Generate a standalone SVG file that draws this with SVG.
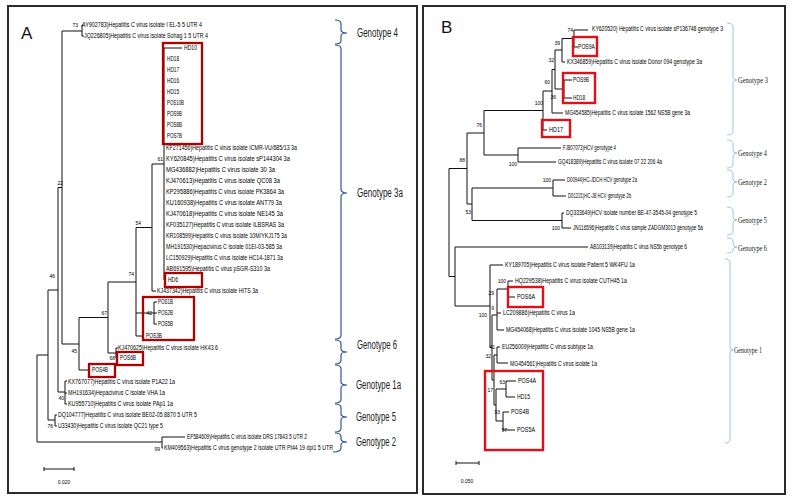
<svg xmlns="http://www.w3.org/2000/svg" width="793" height="502" viewBox="0 0 793 502">
<style>
.frame{fill:none;stroke:#2b2b2b;stroke-width:2}
.br{fill:none;stroke:#111;stroke-width:1}
.t{font-family:"Liberation Sans",Arial,sans-serif;font-size:6.5px;fill:#000}
.tb{font-family:"Liberation Sans",Arial,sans-serif;font-size:7px;fill:#000}
.bs{font-family:"Liberation Sans",Arial,sans-serif;font-size:5px;fill:#000;text-anchor:end}
.box{fill:none;stroke:#b00000;stroke-width:2.3}
.boxb{fill:none;stroke:#e0101a;stroke-width:2.4}
.braceA{fill:none;stroke:#2f5597;stroke-width:1.2}
.braceB{fill:none;stroke:#9dc3e6;stroke-width:1}
.gA{font-family:"Liberation Sans",Arial,sans-serif;font-size:12px;fill:#222}
.gB{font-family:"Liberation Serif","Times New Roman",serif;font-size:8.5px;fill:#222}
.pl{font-family:"Liberation Sans",Arial,sans-serif;font-size:17px;fill:#111}
</style>
<rect width="793" height="502" fill="#ffffff"/>
<rect class="frame" x="8" y="6" width="409" height="487"/>
<rect class="frame" x="423" y="6" width="362" height="488"/>
<text class="pl" x="21" y="39">A</text>
<text class="pl" x="441" y="33">B</text>

<g id="connectors">
<path class="br" d="M62,31 H82 M82,25 V36 M82,25 H83 M82,36 H84
M62,31 V344 M62,344 H79 M79,317.5 V370 M79,370 H89
M79,317.5 H108 M108,282 V353 M108,353 H116 M116,348 V358 M116,348 H118 M116,358 H118
M108,282 H136 M136,227.5 V336 M136,336 H143 M136,313 H154 M154,302 V324 M154,302 H157 M154,313 H157 M154,324 H157
M136,227.5 H152 M152,164 V291 M152,291 H156
M152,164 H164 M164,48 V280 M164,48 H182 M164,280 H166
M58,187.5 H62 M58,187.5 V392 M58,392 H65 M65,381 V404 M65,381 H67 M65,393 H67 M65,404 H67
M48,290 H58 M48,290 V420 M48,420 H55 M55,415 V426 M55,415 H57 M55,426 H57
M37,355 H48 M37,355 V442 M37,442 H162 M162,437 V448 M162,437 H185 M162,448 H163"/>
<path class="br" d="M44,469 H74 M44,467 V471 M74,467 V471"/>

<path class="br" d="M574,30 V47 M574,30 H588 M574,47 H578
M562,38.5 H574 M562,38.5 V62 M562,62 H565
M555,50 H562 M555,50 V89 M555,89 H564 M564,80 V98 M564,80 H572 M564,98 H572
M552,69.5 H555 M552,69.5 V113 M552,113 H563
M543,91 H552 M543,91 V130 M543,130 H547
M484,110.5 H543 M484,110.5 V155 M484,155 H518 M518,148 V162 M518,148 H561 M518,162 H556
M467,133 H484 M467,133 V204 M467,204 H472 M472,188 V220.5 M472,188 H553 M472,220.5 H562
M553,180 V196 M553,180 H565 M553,196 H566 M562,213 V228 M562,213 H564 M562,228 H571
M449,168.5 H467 M449,168.5 V276.5 M449,276.5 H455 M455,247 V306 M455,247 H588 M455,306 H490
M490,265 V347.5 M490,265 H503 M490,347.5 H492
M492,315 V380 M492,315 H497 M492,380 H494
M497,289 V330 M497,289 H508 M497,313 H501 M497,330 H504
M508,281 V297 M508,281 H513 M508,297 H515
M494,355 V405 M494,355 H497 M494,405 H496
M497,347 V363 M497,347 H500 M497,363 H508
M496,389 V421 M496,389 H506 M496,421 H503
M506,381 V397 M506,381 H516 M506,397 H515
M503,412 V430 M503,412 H509 M503,430 H515"/>
<path class="br" d="M456,463 H479 M456,461 V465 M479,461 V465"/>
</g>

<g id="brackets">
<path class="braceA" d="M335,20 Q341,20 341,24 V30 Q341,33 347,33 Q341,33 341,36 V41 Q341,44 335,44"/>
<path class="braceA" d="M335,45 Q341,45 341,49 V189 Q341,193 347,193 Q341,193 341,197 V335 Q341,339 335,339"/>
<path class="braceA" d="M335,340 Q341,340 341,344 V349 Q341,352 347,352 Q341,352 341,355 V360 Q341,364 335,364"/>
<path class="braceA" d="M335,365 Q341,365 341,369 V382 Q341,385 347,385 Q341,385 341,388 V399 Q341,403 335,403"/>
<path class="braceA" d="M335,404 Q341,404 341,408 V414 Q341,417 347,417 Q341,417 341,420 V428 Q341,432 335,432"/>
<path class="braceA" d="M335,433 Q341,433 341,437 V439 Q341,442 347,442 Q341,442 341,445 V448 Q341,452 333,452"/>
<text class="gA" x="357" y="37" textLength="41" lengthAdjust="spacingAndGlyphs">Genotype 4</text>
<text class="gA" x="357" y="197" textLength="46" lengthAdjust="spacingAndGlyphs">Genotype 3a</text>
<text class="gA" x="357" y="349" textLength="40" lengthAdjust="spacingAndGlyphs">Genotype 6</text>
<text class="gA" x="356" y="389" textLength="45" lengthAdjust="spacingAndGlyphs">Genotype 1a</text>
<text class="gA" x="356" y="421" textLength="40" lengthAdjust="spacingAndGlyphs">Genotype 5</text>
<text class="gA" x="356" y="446" textLength="40" lengthAdjust="spacingAndGlyphs">Genotype 2</text>

<path class="braceB" d="M727,23 Q733,23 733,27 V77 Q733,80 737,80 Q733,80 733,83 V131 Q733,135 727,135"/>
<path class="braceB" d="M727,140 Q733,140 733,144 V150 Q733,153 737,153 Q733,153 733,156 V164 Q733,168 727,168"/>
<path class="braceB" d="M727,170 Q733,170 733,174 V179 Q733,182 737,182 Q733,182 733,185 V193 Q733,197 727,197"/>
<path class="braceB" d="M727,207 Q733,207 733,211 V217 Q733,220 737,220 Q733,220 733,223 V231 Q733,235 727,235"/>
<path class="braceB" d="M727,238 Q733,238 733,241 V244 Q733,247 737,247 Q733,247 733,250 V250 Q733,253 727,253"/>
<path class="braceB" d="M725,259 Q730,259 730,263 V347 Q730,350 733,350 Q730,350 730,353 V439 Q730,443 725,443"/>
<text class="gB" x="738" y="83" textLength="30" lengthAdjust="spacingAndGlyphs">Genotype 3</text>
<text class="gB" x="738" y="156" textLength="29" lengthAdjust="spacingAndGlyphs">Genotype 4</text>
<text class="gB" x="738" y="185" textLength="29" lengthAdjust="spacingAndGlyphs">Genotype 2</text>
<text class="gB" x="738" y="223" textLength="29" lengthAdjust="spacingAndGlyphs">Genotype 5</text>
<text class="gB" x="738" y="251" textLength="29" lengthAdjust="spacingAndGlyphs">Genotype 6</text>
<text class="gB" x="734" y="353" textLength="28" lengthAdjust="spacingAndGlyphs">Genotype 1</text>
</g>

<g id="treeA-labels">
<text class="t" x="82" y="27.2" textLength="120" lengthAdjust="spacingAndGlyphs">AY902783)Hepatitis C virus isolate I EL-5 5 UTR 4</text>
<text class="t" x="84" y="38.2" textLength="124" lengthAdjust="spacingAndGlyphs">JQ226805)Hepatitis C virus isolate Sohag 1 5 UTR 4</text>
<text class="t" x="184" y="50.2" textLength="13" lengthAdjust="spacingAndGlyphs">HD10</text>
<text class="t" x="167" y="61.2" textLength="12" lengthAdjust="spacingAndGlyphs">HD18</text>
<text class="t" x="167" y="72.2" textLength="12" lengthAdjust="spacingAndGlyphs">HD17</text>
<text class="t" x="167" y="83.2" textLength="12" lengthAdjust="spacingAndGlyphs">HD16</text>
<text class="t" x="167" y="94.2" textLength="12" lengthAdjust="spacingAndGlyphs">HD15</text>
<text class="t" x="167" y="105.2" textLength="17" lengthAdjust="spacingAndGlyphs">POS10B</text>
<text class="t" x="167" y="116.2" textLength="15" lengthAdjust="spacingAndGlyphs">POS9B</text>
<text class="t" x="167" y="127.2" textLength="15" lengthAdjust="spacingAndGlyphs">POS8B</text>
<text class="t" x="167" y="138.2" textLength="15" lengthAdjust="spacingAndGlyphs">POS7B</text>
<text class="t" x="166" y="150.2" textLength="131" lengthAdjust="spacingAndGlyphs">KF271456)Hepatitis C virus isolate ICMR-VU/685/13 3a</text>
<text class="t" x="166" y="161.2" textLength="124" lengthAdjust="spacingAndGlyphs">KY620845)Hepatitis C virus isolate sP144304 3a</text>
<text class="t" x="166" y="172.2" textLength="109" lengthAdjust="spacingAndGlyphs">MG436882)Hepatitis C virus isolate 30 3a</text>
<text class="t" x="166" y="183.2" textLength="114" lengthAdjust="spacingAndGlyphs">KJ470613)Hepatitis C virus isolate QC08 3a</text>
<text class="t" x="166" y="194.2" textLength="118" lengthAdjust="spacingAndGlyphs">KP295886)Hepatitis C virus isolate PK3864 3a</text>
<text class="t" x="166" y="205.2" textLength="116" lengthAdjust="spacingAndGlyphs">KU160938)Hepatitis C virus isolate ANT79 3a</text>
<text class="t" x="166" y="216.2" textLength="117" lengthAdjust="spacingAndGlyphs">KJ470618)Hepatitis C virus isolate NE145 3a</text>
<text class="t" x="166" y="227.2" textLength="118" lengthAdjust="spacingAndGlyphs">KF035127)Hepatitis C virus isolate ILBSRAS 3a</text>
<text class="t" x="166" y="238.2" textLength="121" lengthAdjust="spacingAndGlyphs">KR108599)Hepatitis C virus isolate 10M/YKJ175 3a</text>
<text class="t" x="166" y="249.2" textLength="116" lengthAdjust="spacingAndGlyphs">MH191530)Hepacivirus C isolate 01EI-03-585 3a</text>
<text class="t" x="166" y="260.2" textLength="117" lengthAdjust="spacingAndGlyphs">LC150929)Hepatitis C virus isolate HC14-1871 3a</text>
<text class="t" x="166" y="271.2" textLength="104" lengthAdjust="spacingAndGlyphs">AB691595)Hepatitis C virus pSGR-S310 3a</text>
<text class="t" x="168" y="282.2" textLength="10" lengthAdjust="spacingAndGlyphs">HD6</text>
<text class="t" x="157" y="293.2" textLength="101" lengthAdjust="spacingAndGlyphs">KJ437342)Hepatitis C virus isolate HITS 3a</text>
<text class="t" x="158" y="304.2" textLength="15" lengthAdjust="spacingAndGlyphs">POS1B</text>
<text class="t" x="158" y="315.2" textLength="15" lengthAdjust="spacingAndGlyphs">POS2B</text>
<text class="t" x="158" y="326.2" textLength="15" lengthAdjust="spacingAndGlyphs">POS5B</text>
<text class="t" x="146" y="338.2" textLength="16" lengthAdjust="spacingAndGlyphs">POS3B</text>
<text class="t" x="118" y="350.2" textLength="100" lengthAdjust="spacingAndGlyphs">KJ470625)Hepatitis C virus isolate HK43 6</text>
<text class="t" x="120" y="360.2" textLength="16" lengthAdjust="spacingAndGlyphs">POS6B</text>
<text class="t" x="92" y="372.2" textLength="16" lengthAdjust="spacingAndGlyphs">POS4B</text>
<text class="t" x="68" y="384.2" textLength="107" lengthAdjust="spacingAndGlyphs">KX767077)Hepatitis C virus isolate P1A22 1a</text>
<text class="t" x="68" y="395.2" textLength="97" lengthAdjust="spacingAndGlyphs">MH191634)Hepacivirus C isolate VHA 1a</text>
<text class="t" x="68" y="406.2" textLength="105" lengthAdjust="spacingAndGlyphs">KU955710)Hepatitis C virus isolate PAp1 1a</text>
<text class="t" x="58" y="417.2" textLength="139" lengthAdjust="spacingAndGlyphs">DQ104777)Hepatitis C virus isolate BE02-05 8870 5 UTR 5</text>
<text class="t" x="58" y="428.2" textLength="105" lengthAdjust="spacingAndGlyphs">U33430)Hepatitis C virus isolate QC21 type 5</text>
<text class="t" x="187" y="439.2" textLength="120" lengthAdjust="spacingAndGlyphs">EF584609)Hepatitis C virus isolate DRS 17843 5 UTR 2</text>
<text class="t" x="164" y="450.2" textLength="169" lengthAdjust="spacingAndGlyphs">KM409563)Hepatitis C virus genotype 2 isolate UTR Pt44 19 dpi1 5 UTR</text>
<text class="bs" x="78" y="27">73</text>
<text class="bs" x="63" y="185">22</text>
<text class="bs" x="163" y="161">61</text>
<text class="bs" x="141" y="225">54</text>
<text class="bs" x="134" y="276">74</text>
<text class="bs" x="107" y="315">67</text>
<text class="bs" x="152" y="315">42</text>
<text class="bs" x="55" y="278">46</text>
<text class="bs" x="77" y="353">45</text>
<text class="bs" x="115" y="360">68</text>
<text class="bs" x="64" y="400">40</text>
<text class="bs" x="53" y="428">76</text>
<text class="bs" x="160" y="451">99</text>
<text class="bs" x="64" y="484" style="text-anchor:middle">0.020</text>
<rect class="box" x="163" y="43" width="39" height="101"/>
<rect class="box" x="165" y="273" width="37" height="14"/>
<rect class="box" x="143" y="297" width="51" height="43"/>
<rect class="box" x="117" y="352" width="26" height="13"/>
<rect class="box" x="89" y="364" width="26" height="13"/>
</g>

<g id="treeB-labels">
<text class="tb" x="592" y="31.4" textLength="131" lengthAdjust="spacingAndGlyphs">KY620520) Hepatitis C virus isolate sP136748 genotype 3</text>
<text class="tb" x="578" y="49.4" textLength="17" lengthAdjust="spacingAndGlyphs">POS9A</text>
<text class="tb" x="567" y="64.4" textLength="135" lengthAdjust="spacingAndGlyphs">KX346859)Hepatitis C virus isolate Donor 094 genotype 3a</text>
<text class="tb" x="573" y="82.4" textLength="16" lengthAdjust="spacingAndGlyphs">POS9B</text>
<text class="tb" x="573" y="100.4" textLength="12" lengthAdjust="spacingAndGlyphs">HD18</text>
<text class="tb" x="565" y="115.4" textLength="125" lengthAdjust="spacingAndGlyphs">MG454585)Hepatitis C virus isolate 1562 NS5B gene 3a</text>
<text class="tb" x="549" y="132.4" textLength="14" lengthAdjust="spacingAndGlyphs">HD17</text>
<text class="tb" x="563" y="150.4" textLength="53" lengthAdjust="spacingAndGlyphs">FJ807073)HCV genotype 4</text>
<text class="tb" x="558" y="164.4" textLength="104" lengthAdjust="spacingAndGlyphs">GQ418389)Hepatitis C virus isolate 07 22 206 4a</text>
<text class="tb" x="567" y="182.4" textLength="70" lengthAdjust="spacingAndGlyphs">D00944)HC-JDCH HCV genotype 2a</text>
<text class="tb" x="568" y="198.4" textLength="63" lengthAdjust="spacingAndGlyphs">D01221)HC-J8 HCV genotype 2b</text>
<text class="tb" x="566" y="215.4" textLength="131" lengthAdjust="spacingAndGlyphs">DQ333649)HCV isolate number BE-47-3545-04 genotype 5</text>
<text class="tb" x="573" y="230.4" textLength="130" lengthAdjust="spacingAndGlyphs">JN116596)Hepatitis C virus sample ZADGM3013 genotype 5a</text>
<text class="tb" x="590" y="249.4" textLength="97" lengthAdjust="spacingAndGlyphs">AB103139)Hepatitis C virus NS5b genotype 6</text>
<text class="tb" x="505" y="267.4" textLength="130" lengthAdjust="spacingAndGlyphs">KY189705)Hepatitis C virus isolate Patient 5 WK4FU 1a</text>
<text class="tb" x="515" y="283.4" textLength="112" lengthAdjust="spacingAndGlyphs">HQ229538)Hepatitis C virus isolate CUTH45 1a</text>
<text class="tb" x="517" y="299.4" textLength="18" lengthAdjust="spacingAndGlyphs">POS6A</text>
<text class="tb" x="503" y="315.4" textLength="72" lengthAdjust="spacingAndGlyphs">LC209886)Hepatitis C virus 1a</text>
<text class="tb" x="506" y="332.4" textLength="129" lengthAdjust="spacingAndGlyphs">MG454068)Hepatitis C virus isolate 1045 NS5B gene 1a</text>
<text class="tb" x="502" y="349.4" textLength="91" lengthAdjust="spacingAndGlyphs">EU256009)Hepatitis C virus subtype 1a</text>
<text class="tb" x="510" y="366.4" textLength="87" lengthAdjust="spacingAndGlyphs">MG454561)Hepatitis C virus isolate 1a</text>
<text class="tb" x="518" y="383.4" textLength="18" lengthAdjust="spacingAndGlyphs">POS4A</text>
<text class="tb" x="517" y="399.4" textLength="13" lengthAdjust="spacingAndGlyphs">HD15</text>
<text class="tb" x="511" y="414.4" textLength="18" lengthAdjust="spacingAndGlyphs">POS4B</text>
<text class="tb" x="517" y="432.4" textLength="18" lengthAdjust="spacingAndGlyphs">POS5A</text>
<text class="bs" x="573" y="32">74</text>
<text class="bs" x="560" y="45">39</text>
<text class="bs" x="554" y="62">32</text>
<text class="bs" x="550" y="84">60</text>
<text class="bs" x="556" y="99">36</text>
<text class="bs" x="543" y="105">100</text>
<text class="bs" x="482" y="127">76</text>
<text class="bs" x="517" y="166">100</text>
<text class="bs" x="465" y="162">88</text>
<text class="bs" x="551" y="182">100</text>
<text class="bs" x="471" y="214">53</text>
<text class="bs" x="560" y="230">100</text>
<text class="bs" x="506" y="283">100</text>
<text class="bs" x="494" y="295">29</text>
<text class="bs" x="494" y="310">9</text>
<text class="bs" x="487" y="317">100</text>
<text class="bs" x="495" y="349">41</text>
<text class="bs" x="491" y="358">32</text>
<text class="bs" x="505" y="384">63</text>
<text class="bs" x="493" y="392">17</text>
<text class="bs" x="500" y="414">93</text>
<text class="bs" x="507" y="432">97</text>
<text class="bs" x="467" y="483" style="text-anchor:middle">0.050</text>
<rect class="boxb" x="573" y="37" width="24" height="19"/>
<rect class="boxb" x="563" y="73" width="32" height="30"/>
<rect class="boxb" x="542" y="120" width="28" height="17"/>
<rect class="boxb" x="508" y="287" width="35" height="20"/>
<rect class="boxb" x="485" y="371" width="58" height="79"/>
</g>
</svg>
